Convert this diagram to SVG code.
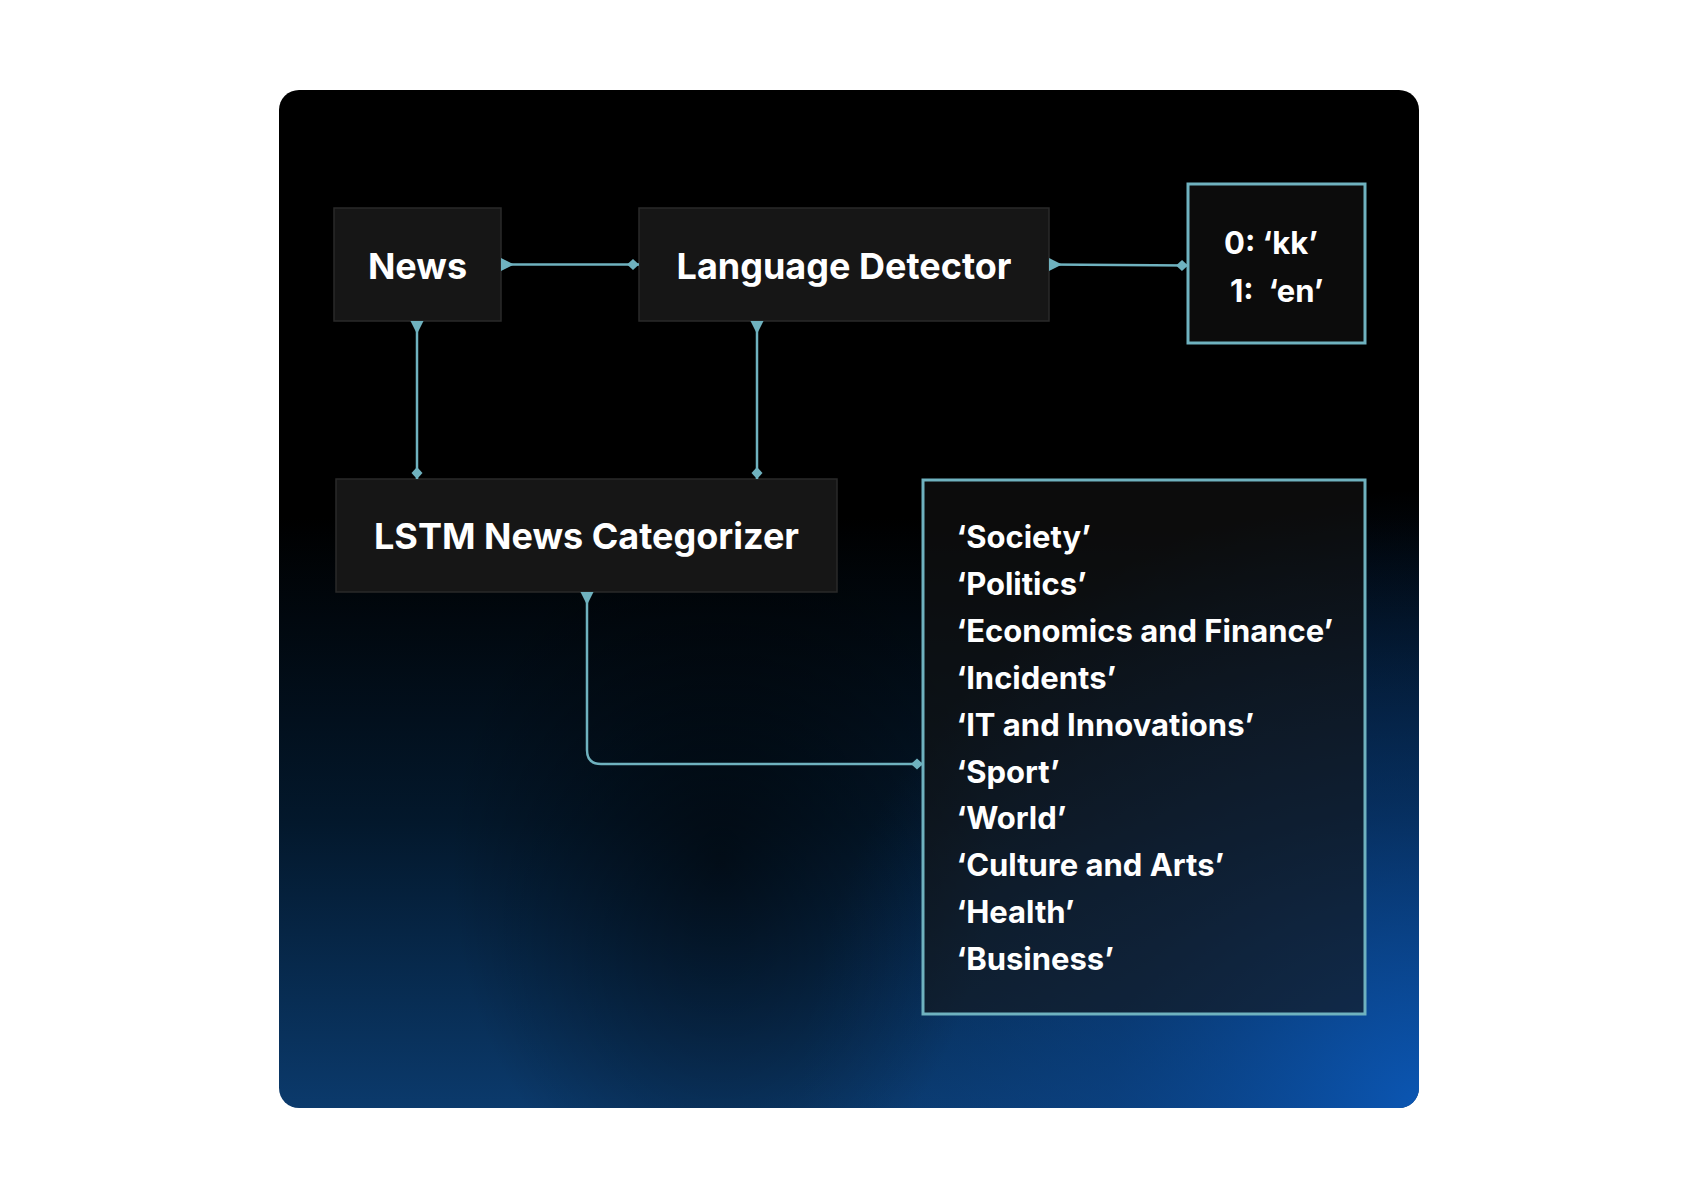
<svg xmlns="http://www.w3.org/2000/svg" width="1700" height="1200" viewBox="0 0 1700 1200">
<defs>
<linearGradient id="bgLin" x1="0" y1="0" x2="0" y2="1">
<stop offset="0" stop-color="#000000"/>
<stop offset="0.42" stop-color="#000000"/>
<stop offset="0.72" stop-color="#03182c"/>
<stop offset="1" stop-color="#0b3a6c"/>
</linearGradient>
<radialGradient id="bgBlue" cx="1420" cy="1110" r="620" gradientUnits="userSpaceOnUse">
<stop offset="0" stop-color="#0b56b3" stop-opacity="1"/>
<stop offset="0.5" stop-color="#0a4590" stop-opacity="0.5"/>
<stop offset="1" stop-color="#0a4590" stop-opacity="0"/>
</radialGradient>
<radialGradient id="bgDark" cx="720" cy="860" r="300" gradientUnits="userSpaceOnUse" gradientTransform="translate(720 860) scale(0.9 1.2) translate(-720 -860)">
<stop offset="0" stop-color="#000000" stop-opacity="0.55"/>
<stop offset="1" stop-color="#000000" stop-opacity="0"/>
</radialGradient>
<clipPath id="bgClip"><rect x="279" y="90" width="1140" height="1018" rx="20"/></clipPath>
<marker id="tri" viewBox="0 0 14 14" markerWidth="14" markerHeight="14" refX="0" refY="7" orient="auto" markerUnits="userSpaceOnUse">
<path d="M0,0.5 L13,7 L0,13.5 Z" fill="#6fb2bf"/>
</marker>
<marker id="dia" viewBox="0 0 14 12" markerWidth="14" markerHeight="12" refX="13" refY="6" orient="auto" markerUnits="userSpaceOnUse">
<path d="M1,6 L7,0.5 L13,6 L7,11.5 Z" fill="#6fb2bf"/>
</marker>
</defs>
<style>
.box{fill:#161616;stroke:#2a2a2a;stroke-width:1.5}
.obox{fill:#141414;fill-opacity:0.6;stroke:#6fb2bf;stroke-width:3}
.lbl{font-family:Inter,"Liberation Sans",sans-serif;font-weight:700;fill:#ffffff;white-space:pre}
.big{font-size:36px}
.sm{font-size:31px}
.conn{fill:none;stroke:#6fb2bf;stroke-width:2.5;marker-start:url(#tri);marker-end:url(#dia)}
</style>
<rect width="1700" height="1200" fill="#ffffff"/>
<g id="background" clip-path="url(#bgClip)">
<rect x="279" y="90" width="1140" height="1018" fill="url(#bgLin)"/>
<rect x="279" y="90" width="1140" height="1018" fill="url(#bgBlue)"/>
<rect x="279" y="90" width="1140" height="1018" fill="url(#bgDark)"/>
</g>
<g id="news">
<rect class="box" x="334" y="208" width="167" height="113"/>
<text class="lbl big" x="417.5" y="279" text-anchor="middle">News</text>
</g>
<g id="language-detector">
<rect class="box" x="639" y="208" width="410" height="113"/>
<text class="lbl big" x="844" y="279" text-anchor="middle">Language Detector</text>
</g>
<g id="language-codes">
<rect class="obox" x="1188" y="184" width="177" height="159"/>
<text class="lbl sm" x="1224" y="254" xml:space="preserve">0: ‘kk’</text>
<text class="lbl sm" x="1230" y="302" xml:space="preserve">1:  ‘en’</text>
</g>
<g id="lstm">
<rect class="box" x="336" y="479" width="501" height="113"/>
<text class="lbl big" x="586.5" y="549" text-anchor="middle">LSTM News Categorizer</text>
</g>
<g id="categories">
<rect class="obox" x="923" y="480" width="442" height="534"/>
<text class="lbl sm" x="956.5" y="548">‘Society’</text>
<text class="lbl sm" x="956.5" y="595">‘Politics’</text>
<text class="lbl sm" x="956.5" y="642">‘Economics and Finance’</text>
<text class="lbl sm" x="956.5" y="689">‘Incidents’</text>
<text class="lbl sm" x="956.5" y="736">‘IT and Innovations’</text>
<text class="lbl sm" x="956.5" y="783">‘Sport’</text>
<text class="lbl sm" x="956.5" y="829">‘World’</text>
<text class="lbl sm" x="956.5" y="876">‘Culture and Arts’</text>
<text class="lbl sm" x="956.5" y="923">‘Health’</text>
<text class="lbl sm" x="956.5" y="970">‘Business’</text>
</g>
<g id="connectors">
<path class="conn" d="M501,264.5 H639"/>
<path class="conn" d="M1049,264.5 L1188,265.5"/>
<path class="conn" d="M417,321 V479"/>
<path class="conn" d="M757,321 V479"/>
<path class="conn" d="M587,592 V750 Q587,764 601,764 H923"/>
</g>
</svg>
